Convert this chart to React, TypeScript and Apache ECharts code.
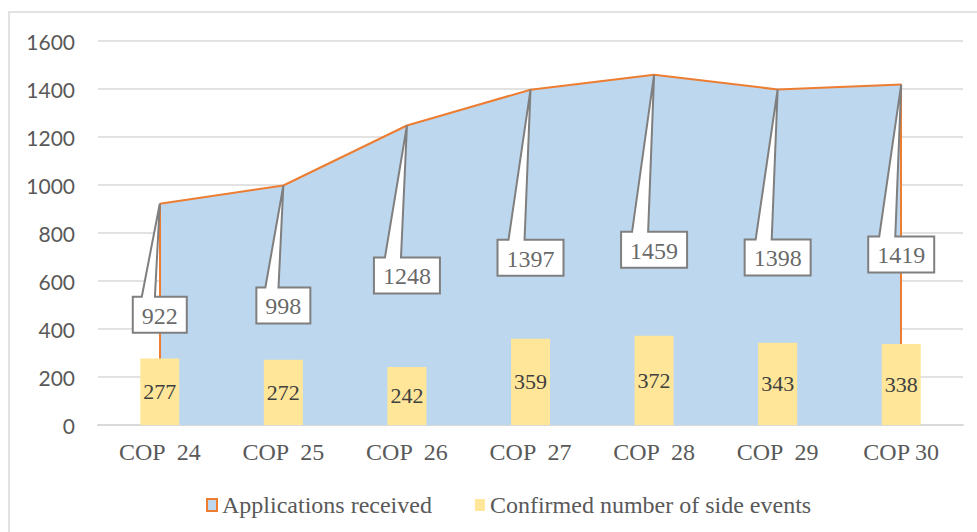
import React, { useEffect, useRef } from 'react';
import * as echarts from 'echarts';

const categories = ['COP  24', 'COP  25', 'COP  26', 'COP  27', 'COP  28', 'COP  29', 'COP 30'];
const applicationsReceived = [922, 998, 1248, 1397, 1459, 1398, 1419];
const confirmedSideEvents = [277, 272, 242, 359, 372, 343, 338];
const yMax = 1600;
const yInterval = 200;

// layout: vertical drop (px) of each callout box centre below its point
const calloutDrop = [111, 120, 150, 168, 175, 168, 170];

const SERIF = '"Liberation Serif", "Times New Roman", serif';
const ORANGE = '#ED7D31';
const BLUE = '#BDD7EE';
const YELLOW = '#FFE699';

export default function App() {
  const ref = useRef<HTMLDivElement>(null);
  useEffect(() => {
    document.body.style.margin = '0';
    const chart = echarts.init(ref.current!, null, { renderer: 'svg' });
    chart.setOption({
      animation: false,
      backgroundColor: '#ffffff',
      textStyle: { fontFamily: SERIF },
      grid: { left: 98, right: 14, top: 41, bottom: 107, containLabel: false },
      graphic: [
        {
          type: 'rect',
          z: 0,
          silent: true,
          shape: { x: 9, y: 12, width: 1000, height: 560 },
          style: { fill: 'none', stroke: '#d9d9d9', lineWidth: 1.5 },
        },
      ],
      legend: {
        left: 201,
        top: 488,
        itemWidth: 10,
        itemHeight: 12,
        itemGap: 43,
        textStyle: { fontFamily: SERIF, fontSize: 24, color: '#595959' },
        data: [
          {
            name: 'Applications received',
            icon: 'rect',
            itemStyle: { color: BLUE, borderColor: ORANGE, borderWidth: 2 },
          },
          { name: 'Confirmed number of side events', icon: 'rect', itemStyle: { color: YELLOW } },
        ],
      },
      xAxis: {
        type: 'category',
        data: categories,
        boundaryGap: true,
        axisLine: { lineStyle: { color: '#d9d9d9', width: 2 } },
        axisTick: { show: false },
        axisLabel: { fontFamily: SERIF, fontSize: 24, color: '#595959', margin: 15 },
      },
      yAxis: {
        type: 'value',
        min: 0,
        max: yMax,
        interval: yInterval,
        axisLine: { show: false },
        axisTick: { show: false },
        splitLine: { lineStyle: { color: '#d9d9d9', width: 1.5 } },
        axisLabel: {
          fontFamily: 'Lato, "Open Sans", sans-serif',
          fontSize: 21,
          color: '#595959',
          margin: 23,
          formatter: (v: number) => String(v),
        },
      },
      series: [
        {
          name: 'Applications received',
          type: 'line',
          data: applicationsReceived,
          symbol: 'none',
          z: 2,
          lineStyle: { color: ORANGE, width: 2 },
          itemStyle: { color: BLUE, borderColor: ORANGE },
          areaStyle: { color: BLUE, opacity: 1 },
          markLine: {
            silent: true,
            symbol: 'none',
            label: { show: false },
            lineStyle: { color: ORANGE, width: 2, type: 'solid' },
            data: [
              [
                { coord: [0, applicationsReceived[0]] },
                { coord: [0, 0] },
              ],
              [
                { coord: [categories.length - 1, applicationsReceived[categories.length - 1]] },
                { coord: [categories.length - 1, 0] },
              ],
            ],
          },
        },
        {
          name: 'Confirmed number of side events',
          type: 'bar',
          data: confirmedSideEvents,
          barWidth: 39,
          z: 5,
          itemStyle: { color: YELLOW },
          label: {
            show: true,
            position: 'inside',
            fontFamily: SERIF,
            fontSize: 22,
            color: '#404040',
          },
        },
        {
          name: 'callout boxes',
          type: 'custom',
          z: 10,
          silent: true,
          data: applicationsReceived.map((v, i) => [i, v]),
          renderItem: (params: any, api: any) => {
            const v = api.value(1);
            const [px, py] = api.coord([api.value(0), v]);
            const label = String(v);
            const w = label.length * 12 + 18;
            const h = 36;
            const cx = px;
            const cy = py + calloutDrop[params.dataIndex];
            const left = cx - w / 2;
            const top = cy - h / 2;
            const bl = left + 0.167 * w;
            const br = left + 0.41 * w;
            return {
              type: 'polygon',
              shape: {
                points: [
                  [left, top],
                  [bl, top],
                  [px, py],
                  [br, top],
                  [left + w, top],
                  [left + w, top + h],
                  [left, top + h],
                ],
              },
              style: { fill: '#ffffff', stroke: '#7f7f7f', lineWidth: 2, lineJoin: 'miter' },
            };
          },
        },
        {
          name: 'callout labels',
          type: 'scatter',
          z: 20,
          silent: true,
          symbol: 'rect',
          symbolSize: 1,
          itemStyle: { color: 'rgba(0,0,0,0)' },
          data: applicationsReceived.map((v, i) => ({
            value: [i, v],
            label: { offset: [0, calloutDrop[i] + 1] },
          })),
          label: {
            show: true,
            position: 'inside',
            fontFamily: 'Liberation Serif, serif',
            fontWeight: 'normal',
            fontSize: 24,
            color: '#404040',
            formatter: (p: any) => String(p.value[1]),
          },
        },
      ],
    });

    return () => chart.dispose();
  }, []);
  return (
    <div
      ref={ref}
      style={{ position: 'fixed', left: 0, top: 0, width: 977, height: 532 }}
    />
  );
}
